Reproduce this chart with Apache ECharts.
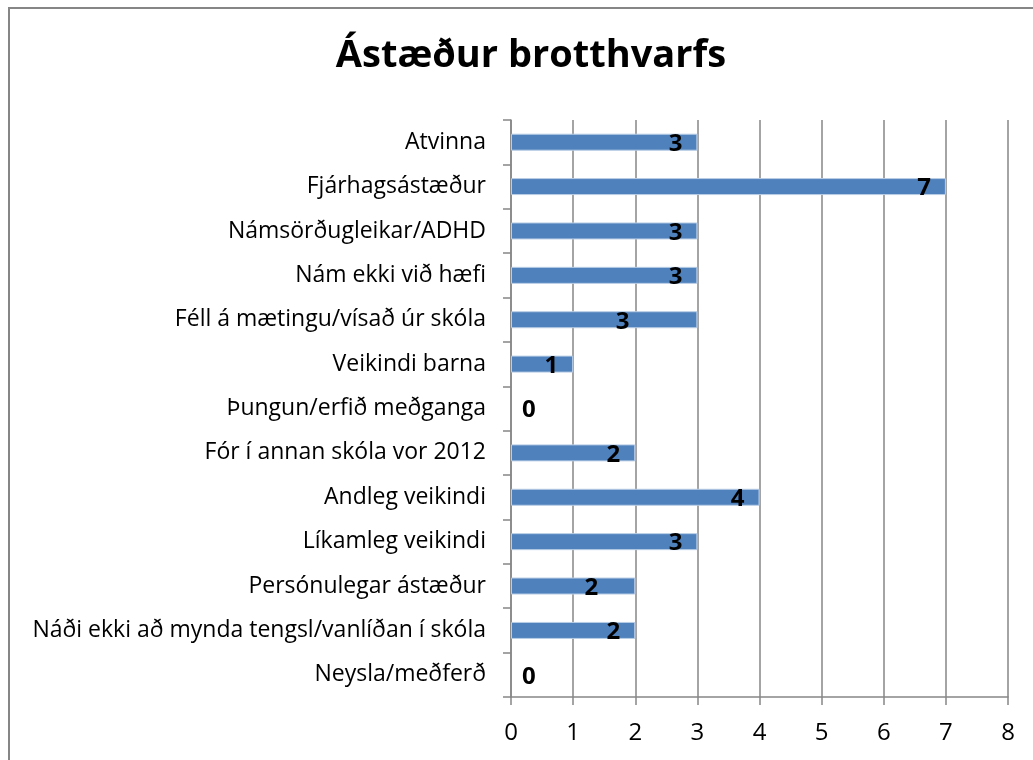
<!DOCTYPE html>
<html>
<head>
<meta charset="utf-8">
<style>
  html, body { margin: 0; padding: 0; background: #fff; }
  #chart { width: 1033px; height: 760px; }
</style>
<script src="https://cdn.jsdelivr.net/npm/echarts@6/dist/echarts.min.js"></script>
</head>
<body>
<div id="chart"></div>
<script>
// ---- data ----
const titleText = 'Ástæður brotthvarfs';
const categories = [
  'Atvinna',
  'Fjárhagsástæður',
  'Námsörðugleikar/ADHD',
  'Nám ekki við hæfi',
  'Féll á mætingu/vísað úr skóla',
  'Veikindi barna',
  'Þungun/erfið meðganga',
  'Fór í annan skóla vor 2012',
  'Andleg veikindi',
  'Líkamleg veikindi',
  'Persónulegar ástæður',
  'Náði ekki að mynda tengsl/vanlíðan í skóla',
  'Neysla/meðferð'
];
const values = [3, 7, 3, 3, 3, 1, 0, 2, 4, 3, 2, 2, 0];
const xTicks = [0, 1, 2, 3, 4, 5, 6, 7, 8];

// ---- styling (label nudges, in px, as placed in the original) ----
const labelNudgeX = { 'Féll á mætingu/vísað úr skóla': -53, 'Persónulegar ástæður': -22 };

const FONT = '"Open Sans", Lato, sans-serif';
const GRAY = '#868686';

const seriesData = categories.map((c, i) => {
  const v = values[i];
  const item = { value: v };
  if (v === 0) {
    item.label = { position: 'right', distance: 11 };
    item.itemStyle = { borderWidth: 0 };
  } else if (labelNudgeX[c] !== undefined) {
    item.label = { offset: [labelNudgeX[c], 2] };
  }
  return item;
});

const chart = echarts.init(document.getElementById('chart'), null, { renderer: 'canvas' });
chart.setOption({
  animation: false,
  backgroundColor: '#ffffff',
  title: {
    text: titleText,
    left: 526,
    textAlign: 'center',
    top: 32,
    textStyle: { fontFamily: FONT, fontSize: 38, fontWeight: 'bold', color: '#000' }
  },
  graphic: [{
    type: 'polyline',
    shape: { points: [[9, 760], [9, 8], [1033, 8]] },
    style: { stroke: GRAY, lineWidth: 2, fill: null },
    silent: true
  }],
  grid: { left: 511, right: 25, top: 120, bottom: 63, containLabel: false },
  xAxis: {
    type: 'value',
    min: xTicks[0],
    max: xTicks[xTicks.length - 1],
    interval: 1,
    axisLine: { show: true, lineStyle: { color: GRAY, width: 1.5 } },
    axisTick: { show: true, length: 8, lineStyle: { color: GRAY, width: 1.5 } },
    splitLine: { show: true, lineStyle: { color: GRAY, width: 1.5 } },
    axisLabel: { color: '#000', fontFamily: FONT, fontSize: 24, margin: 24 }
  },
  yAxis: {
    type: 'category',
    inverse: true,
    data: categories,
    axisLine: { show: true, lineStyle: { color: GRAY, width: 1.5 } },
    axisTick: { show: true, length: 8, lineStyle: { color: GRAY, width: 1.5 } },
    splitLine: { show: false },
    axisLabel: { color: '#000', fontFamily: FONT, fontSize: 23, margin: 25 }
  },
  series: [{
    type: 'bar',
    data: seriesData,
    barWidth: 17,
    itemStyle: { color: '#4f81bd', borderColor: '#b9cde5', borderWidth: 1 },
    label: {
      show: true,
      position: 'insideRight',
      distance: 15,
      offset: [0, 2],
      color: '#000',
      fontFamily: FONT,
      fontSize: 24,
      fontWeight: 'bold'
    }
  }]
});
</script>
</body>
</html>
